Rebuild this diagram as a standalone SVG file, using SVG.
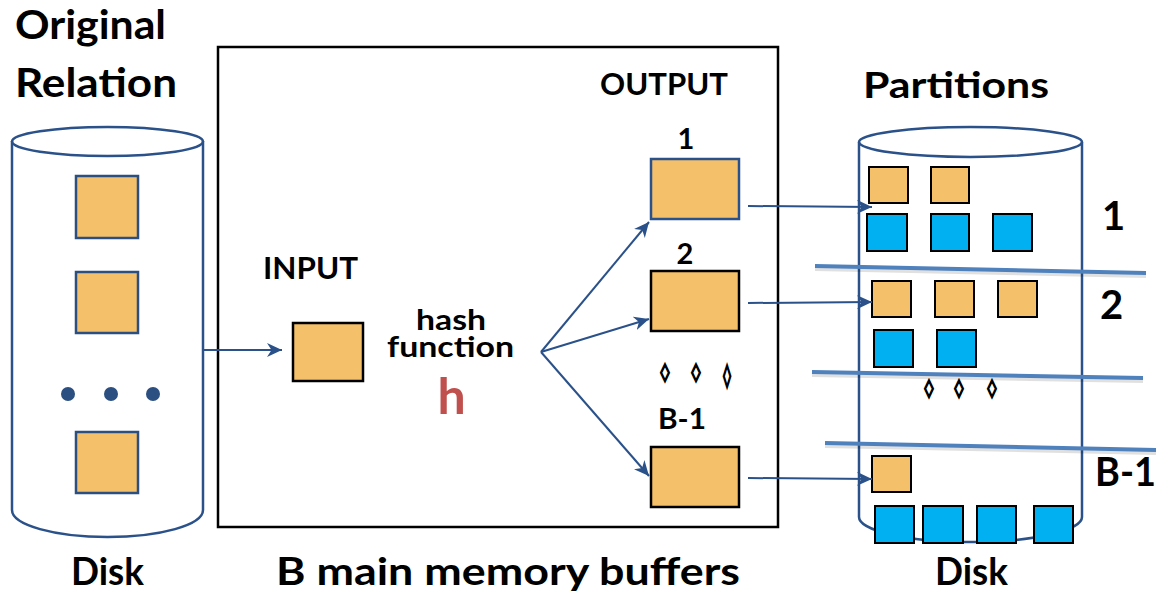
<svg xmlns="http://www.w3.org/2000/svg" width="1163" height="593" viewBox="0 0 1163 593">
<style>
.t{font-family:Lato,"Open Sans","Liberation Sans",sans-serif;font-weight:bold;fill:#000}
.cyl{fill:none;stroke:#2A5189;stroke-width:2.5}
.og{fill:#F5C06A;stroke:#2A4F80;stroke-width:2.5}
.ob{fill:#F5C06A;stroke:#000;stroke-width:2.5}
.sq{fill:#F5C06A;stroke:#000;stroke-width:2}
.bl{fill:#00B0F0;stroke:#000;stroke-width:2}
.arr{fill:none;stroke:#2A5189;stroke-width:2;marker-end:url(#ah)}
.div{stroke:#4F81BD;stroke-width:4}
.sh{stroke:#000;stroke-opacity:0.12;stroke-width:4}
.dm{font-family:"DejaVu Sans",sans-serif;font-weight:bold;font-size:18px;text-anchor:middle;fill:#000;stroke:#000;stroke-width:1.4}
</style>
<defs>
<marker id="ah" markerUnits="userSpaceOnUse" markerWidth="16" markerHeight="14" refX="15" refY="7" orient="auto">
<path d="M0,0 L15,7 L0,14 L4.5,7 z" fill="#2A5189"/>
</marker>
</defs>
<rect width="1163" height="593" fill="#fff"/>

<g id="original-disk">
<path class="cyl" d="M12,141 L12,510 A95.5,27 0 0 0 203,510 L203,141"/>
<ellipse class="cyl" cx="107.5" cy="141.5" rx="95.5" ry="14.5"/>
<rect class="og" x="76" y="176" width="62" height="62"/>
<rect class="og" x="76" y="272" width="62" height="61"/>
<circle cx="68" cy="394" r="7" fill="#2A4F80"/>
<circle cx="111" cy="394" r="7" fill="#2A4F80"/>
<circle cx="153" cy="394" r="7" fill="#2A4F80"/>
<rect class="og" x="76" y="432" width="62" height="61"/>
<text class="t" x="15" y="38.5" font-size="40" textLength="151" lengthAdjust="spacingAndGlyphs">Original</text>
<text class="t" x="15" y="97" font-size="40" textLength="162" lengthAdjust="spacingAndGlyphs">Relation</text>
<text class="t" x="71" y="585" font-size="38" textLength="73" lengthAdjust="spacingAndGlyphs">Disk</text>
</g>

<g id="memory">
<rect x="218" y="47" width="560" height="480" fill="none" stroke="#000" stroke-width="2.5"/>
<text class="t" x="276" y="585" font-size="38" textLength="464" lengthAdjust="spacingAndGlyphs">B main memory buffers</text>
</g>

<g id="input">
<text class="t" x="263" y="279" font-size="30" textLength="95" lengthAdjust="spacingAndGlyphs">INPUT</text>
<rect class="ob" x="293" y="323" width="70" height="58"/>
</g>

<g id="hash">
<text class="t" x="416" y="330" font-size="29" textLength="70" lengthAdjust="spacingAndGlyphs">hash</text>
<text class="t" x="387" y="357" font-size="29" textLength="127" lengthAdjust="spacingAndGlyphs">function</text>
<text x="451.5" y="414" font-family="Lato,'Open Sans','Liberation Sans',sans-serif" font-weight="bold" font-size="50" fill="#C0504D" text-anchor="middle">h</text>
</g>

<g id="output">
<text class="t" x="600" y="95" font-size="30" textLength="128" lengthAdjust="spacingAndGlyphs">OUTPUT</text>
<text class="t" x="686" y="149" font-size="29" text-anchor="middle">1</text>
<rect x="651" y="159" width="88" height="60" fill="#F5C06A" stroke="#2A5189" stroke-width="2.5"/>
<text class="t" x="685" y="264" font-size="29" text-anchor="middle">2</text>
<rect class="ob" x="651" y="271" width="88" height="60"/>
<text class="dm" x="665" y="378">◊</text>
<text class="dm" x="696" y="378">◊</text>
<text class="dm" x="0" y="5" transform="translate(727 376) scale(0.85 1.3)">◊</text>
<text class="t" x="658" y="429" font-size="29" textLength="48" lengthAdjust="spacingAndGlyphs">B-1</text>
<rect class="ob" x="651" y="447" width="88" height="60"/>
</g>

<g id="partitions-disk">
<path class="cyl" d="M859,142 L859,517 A111.5,25 0 0 0 1082,517 L1082,142"/>
<ellipse class="cyl" cx="970.5" cy="142" rx="111.5" ry="15"/>
<text class="t" x="863" y="98" font-size="37" textLength="186" lengthAdjust="spacingAndGlyphs">Partitions</text>
<rect class="sq" x="869" y="167" width="39" height="36"/>
<rect class="sq" x="931" y="167" width="38" height="36"/>
<rect class="bl" x="867" y="214" width="40" height="37"/>
<rect class="bl" x="931" y="214" width="38" height="37"/>
<rect class="bl" x="993" y="214" width="39" height="37"/>
<line class="sh" x1="815" y1="269" x2="1146" y2="276"/>
<line class="div" x1="815" y1="266" x2="1146" y2="273"/>
<rect class="sq" x="872" y="281" width="39" height="36"/>
<rect class="sq" x="935" y="281" width="39" height="36"/>
<rect class="sq" x="998" y="281" width="39" height="36"/>
<rect class="bl" x="874" y="330" width="39" height="37"/>
<rect class="bl" x="937" y="330" width="39" height="37"/>
<line class="sh" x1="812" y1="375" x2="1143" y2="381"/>
<line class="div" x1="812" y1="372" x2="1143" y2="378"/>
<text class="dm" x="929" y="394">◊</text>
<text class="dm" x="959" y="394">◊</text>
<text class="dm" x="992" y="394">◊</text>
<line class="sh" x1="825" y1="446" x2="1156" y2="453"/>
<line class="div" x1="825" y1="443" x2="1156" y2="450"/>
<rect class="sq" x="872" y="456" width="39" height="36"/>
<rect class="bl" x="875" y="506" width="39" height="37"/>
<rect class="bl" x="923" y="506" width="40" height="37"/>
<rect class="bl" x="977" y="506" width="39" height="37"/>
<rect class="bl" x="1034" y="506" width="39" height="37"/>
<text class="t" x="1113.5" y="230" font-size="40" text-anchor="middle">1</text>
<text class="t" x="1111.5" y="319" font-size="40" text-anchor="middle">2</text>
<text class="t" x="1095" y="486" font-size="40" textLength="61" lengthAdjust="spacingAndGlyphs">B-1</text>
<text class="t" x="935" y="585" font-size="38" textLength="73" lengthAdjust="spacingAndGlyphs">Disk</text>
</g>

<g id="connectors">
<line class="arr" x1="203" y1="350" x2="282" y2="350"/>
<line class="arr" x1="541" y1="352" x2="649" y2="222"/>
<line class="arr" x1="541" y1="352" x2="649" y2="319"/>
<line class="arr" x1="541" y1="352" x2="649" y2="476"/>
<line class="arr" x1="748" y1="206" x2="872" y2="207"/>
<line class="arr" x1="748" y1="303" x2="872" y2="302"/>
<line class="arr" x1="748" y1="478" x2="872" y2="479"/>
</g>
</svg>
